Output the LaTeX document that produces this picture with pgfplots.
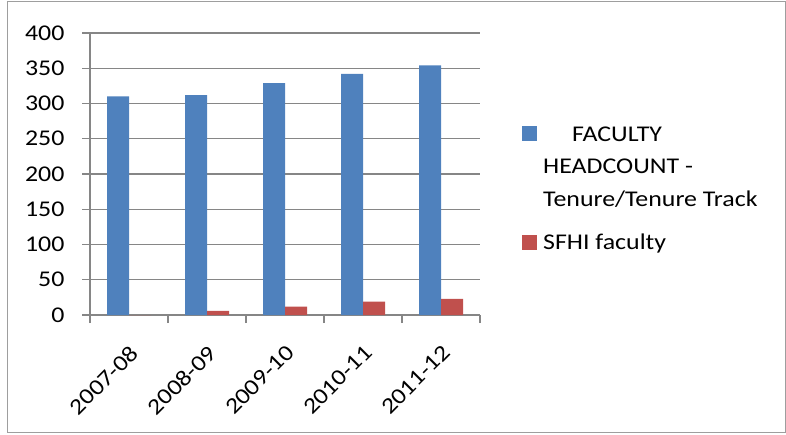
\documentclass[border=0pt]{standalone}
\usepackage{fontspec}
\setmainfont{Carlito}[FakeStretch=1.15]
\usepackage{pgfplots}
\pgfplotsset{compat=1.18}
\definecolor{cblue}{HTML}{4F81BD}
\definecolor{cred}{HTML}{C0504D}
\definecolor{cgrid}{HTML}{868686}
\begin{document}
\begin{tikzpicture}[x=1pt,y=1pt]
\path (0,0) rectangle (786,434);
\draw[cgrid!80, line width=1pt] (7,2) rectangle (785,432);
\begin{axis}[
  at={(90pt,119pt)}, anchor=south west,
  scale only axis, width=390pt, height=282pt,
  ymin=0, ymax=400, ytick={0,50,...,400},
  xmin=-0.5, xmax=4.5,
  xtick={0,...,4},
  xticklabels={2007-08,2008-09,2009-10,2010-11,2011-12},
  minor xtick={-0.5,0.5,...,4.5},
  tick align=outside,
  major tick length=8pt, minor tick length=8pt,
  major x tick style={draw=none},
  tick style={cgrid, line width=1.2pt},
  axis x line*=bottom, axis y line*=left,
  axis line style={cgrid, line width=1.2pt, -},
  ymajorgrids, grid style={cgrid, line width=1.2pt},
  ybar=0pt, bar width=22pt,
  ticklabel style={font=\fontsize{22.5}{27}\selectfont},
  yticklabel style={xshift=-14pt},
  xticklabel style={xshift=0pt, yshift=-16pt, rotate=45, anchor=north east},
  /pgf/number format/assume math mode=true,
  legend style={at={(1.10,0.683)}, anchor=north west, draw=none, fill=none,
    font=\fontsize{22.5}{32}\selectfont, row sep=12pt},
  legend cell align=left,
  legend style={cells={anchor=base west}},
]
\addplot[fill=cblue, draw=none, legend image code/.code={\fill[cblue] (0pt,0pt) rectangle (15pt,15pt);}]
  coordinates {(0,310)(1,312)(2,329)(3,342)(4,354)};
\addlegendentry{\hspace*{33pt}FACULTY}
\addlegendimage{legend image code/.code={}}
\addlegendentry{\hspace*{4pt}HEADCOUNT -}
\addlegendimage{legend image code/.code={}}
\addlegendentry{\hspace*{4pt}Tenure/Tenure Track}
\addplot[fill=cred, draw=none, legend image code/.code={\fill[cred] (0pt,-1pt) rectangle (15pt,14pt);}]
  coordinates {(0,0)(1,6)(2,12)(3,19)(4,23)};
\addlegendentry{\rule{0pt}{25.5pt}\hspace*{4pt}SFHI faculty}
\end{axis}
\end{tikzpicture}
\end{document}
